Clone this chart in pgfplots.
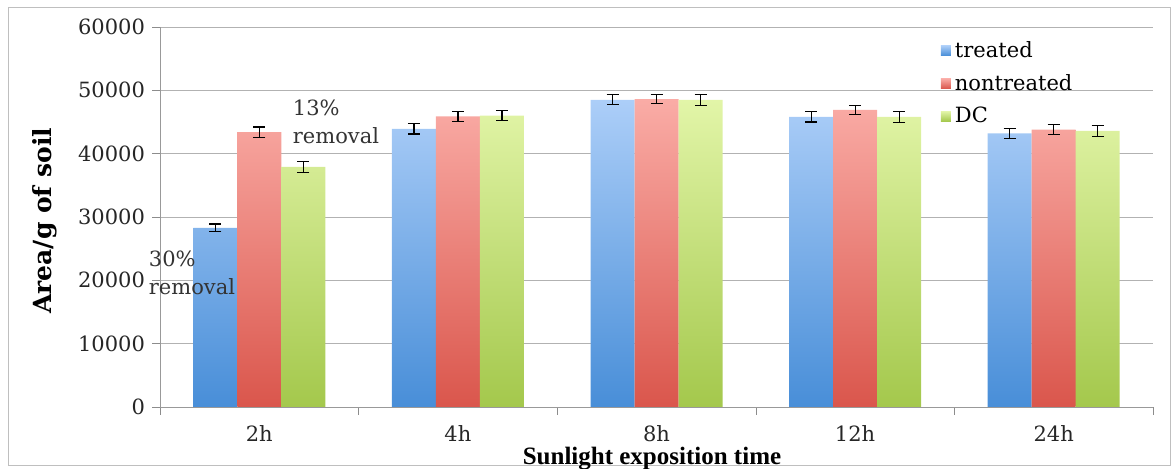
\documentclass[border=0pt]{standalone}
\usepackage{fontspec}
\setmainfont{DejaVu Serif}
\newfontfamily\labfont{Liberation Serif}
\usepackage{pgfplots}
\pgfplotsset{compat=1.18}
\definecolor{btop}{RGB}{172,206,248}
\definecolor{bbot}{RGB}{72,142,216}
\definecolor{rtop}{RGB}{250,172,166}
\definecolor{rbot}{RGB}{218,86,76}
\definecolor{gtop}{RGB}{226,245,168}
\definecolor{gbot}{RGB}{164,200,76}
\pgfplotstableread{
x y e
0 28300 600
1 43900 800
2 48500 800
3 45800 800
4 43200 800
}\treated
\pgfplotstableread{
x y e
0 43400 800
1 45900 800
2 48600 700
3 46900 700
4 43800 800
}\nontreated
\pgfplotstableread{
x y e
0 37900 900
1 46000 800
2 48500 900
3 45800 900
4 43600 900
}\dc
\begin{document}
\begin{tikzpicture}
\useasboundingbox (0,0) rectangle (588pt,234.5pt);
\draw[black!25] (4pt,2pt) rectangle (585pt,231pt);
\begin{axis}[
  at={(80pt,31pt)}, anchor=south west,
  scale only axis, width=496.5pt, height=190pt,
  ymin=0, ymax=60000, ytick={0,10000,...,60000},
  scaled y ticks=false,
  xmin=-0.5, xmax=4.5,
  xtick={-0.5,0.5,...,4.5},
  x tick label as interval,
  xticklabels={2h,4h,8h,12h,24h},
  ybar=0pt, bar width=22pt,
  axis x line*=bottom, axis y line*=left,
  axis line style={black!40,-},
  ymajorgrids, grid style={black!30},
  tick align=outside, major tick length=4pt,
  tick style={black!45},
  /pgf/number format/assume math mode=true,
  /pgf/number format/1000 sep={},
  ticklabel style={font=\fontsize{10.5}{12}\selectfont, text=black!85},
  xticklabel style={yshift=-1.5pt},
  xlabel={\labfont\bfseries\fontsize{12.5}{14}\selectfont Sunlight exposition time},
  xlabel style={at={(axis description cs:0.4955,-0.136)}, anchor=center},
  ylabel={\bfseries\fontsize{12.5}{14}\selectfont Area/g of soil},
  ylabel style={at={(axis description cs:-0.116,0.49)}, anchor=center},
  legend style={at={(rel axis cs:0.78,0.985)}, anchor=north west, draw=none, fill=none,
    font=\fontsize{10.5}{12}\selectfont, row sep=3pt},
  legend cell align=left,
  clip=false,
  error bars/y dir=both, error bars/y explicit,
  error bars/error bar style={black, line width=0.6pt},
  error bars/error mark options={rotate=90, mark size=3pt, black, line width=0.6pt},
  lg/.style={legend image code/.code={\fill[##1] (0pt,-2.5pt) rectangle (5pt,2.5pt);}},
]
\addplot[draw=none, top color=btop, bottom color=bbot, lg] table[x=x, y=y, y error=e] {\treated};
\addplot[draw=none, top color=rtop, bottom color=rbot, lg] table[x=x, y=y, y error=e] {\nontreated};
\addplot[draw=none, top color=gtop, bottom color=gbot, lg] table[x=x, y=y, y error=e] {\dc};
\legend{treated, nontreated, DC}
\node[font=\fontsize{10.5}{14}\selectfont, align=left, text=black!80] at (axis cs:0.386,45000) {13\%\\removal};
\node[font=\fontsize{10.5}{14}\selectfont, align=left, text=black!80] at (axis cs:-0.339,21150) {30\%\\removal};
\end{axis}
\end{tikzpicture}
\end{document}
